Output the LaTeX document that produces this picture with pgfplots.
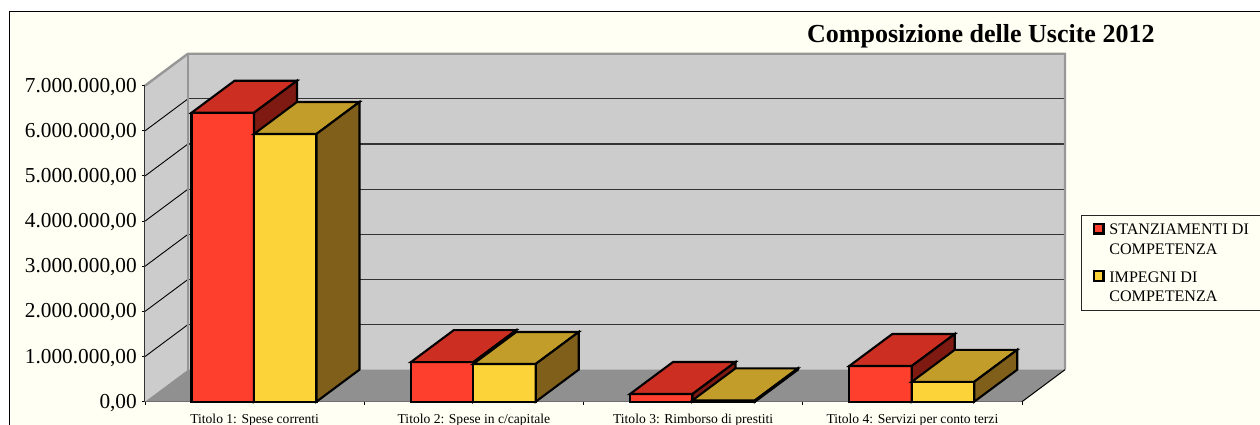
\documentclass[border=0pt]{standalone}
\usepackage{pgfplots}
\usepackage{fontspec}
\setmainfont{Liberation Serif}
\pgfplotsset{compat=1.18}
\definecolor{bgc}{HTML}{FFFFF3}
\definecolor{wall}{HTML}{CCCCCC}
\definecolor{floorc}{HTML}{909090}
\definecolor{edge}{HTML}{969696}
\definecolor{redF}{HTML}{FF3F2D}
\definecolor{redT}{HTML}{CC2F22}
\definecolor{redS}{HTML}{7F1A12}
\definecolor{yelF}{HTML}{FCD338}
\definecolor{yelT}{HTML}{C29D2A}
\definecolor{yelS}{HTML}{7F5F1A}
% depth of the 3D effect, in axis units (43 px and 32 px)
\def\dx{0.1961}
\def\dy{0.7089}
\newcommand\bbox[4]{%
  \pgfmathsetmacro\xa{#1+\dx}\pgfmathsetmacro\xb{#2+\dx}\pgfmathsetmacro\yb{#3+\dy}\pgfmathsetmacro\yc{\dy}%
  \addplot[forget plot,draw=black,line width=2.1pt,line join=miter,fill=#4F] coordinates {(#1,0)(#2,0)(#2,#3)(#1,#3)} --cycle;
  \addplot[forget plot,draw=black,line width=2.1pt,line join=miter,fill=#4T] coordinates {(#1,#3)(#2,#3)(\xb,\yb)(\xa,\yb)} --cycle;
  \addplot[forget plot,draw=black,line width=2.1pt,line join=miter,fill=#4S] coordinates {(#2,0)(\xb,\yc)(\xb,\yb)(#2,#3)} --cycle;
}
\newcommand\gridl[1]{%
  \pgfmathsetmacro\yb{#1+\dy}%
  \addplot[forget plot,draw=black!80,line width=1.1pt] coordinates {(\dx,\yb)(4+\dx,\yb)};
  \addplot[forget plot,draw=black,line width=0.9pt] coordinates {(0,#1)(\dx,\yb)};
}
\begin{document}
\begin{tikzpicture}[x=1pt,y=1pt]
\useasboundingbox (0,0) rectangle (1260,425);
\clip (0,0) rectangle (1260,425);
\fill[white] (0,0) rectangle (1260,425);
\draw[black,fill=bgc,line width=1.2pt] (9.5,-5) rectangle (1270,413.5);
\begin{axis}[
  at={(145pt,23.3pt)},anchor=south west,
  scale only axis,width=877pt,height=316pt,
  xmin=0,xmax=4,ymin=0,ymax=7,clip=false,
  axis x line=bottom,axis y line=left,
  axis line style={-,line width=1.1pt,black!80},
  no markers,
  tick style={black,line width=1pt},
  major tick length=6pt,
  xtick={0,1,2,3,4},xticklabels={},
  extra x ticks={0.5,1.5,2.5,3.5},
  extra x tick labels={Titolo 1: Spese correnti,Titolo 2: Spese in c/capitale,Titolo 3: Rimborso di prestiti,Titolo 4: Servizi per conto terzi},
  extra x tick style={major tick length=0pt,
    xticklabel style={font=\fontsize{13.6}{14}\selectfont,inner sep=0pt,anchor=base,yshift=-21.5pt}},
  ytick={0,1,2,3,4,5,6,7},
  yticklabels={{0,00},{1.000.000,00},{2.000.000,00},{3.000.000,00},{4.000.000,00},{5.000.000,00},{6.000.000,00},{7.000.000,00}},
  yticklabel style={font=\fontsize{21.3}{22}\selectfont,inner sep=0pt,xshift=-5pt,yshift=-1pt},
  title={\textbf{Composizione delle Uscite 2012}},
  title style={font=\fontsize{26}{26}\selectfont,at={(axis description cs:0.7548,1.119)},anchor=base west,inner sep=0pt},
  legend style={at={(axis description cs:1.0667,0.59)},anchor=north west,
    draw=black!85,line width=0.9pt,fill=none,inner xsep=12pt,inner ysep=7pt,row sep=14pt,column sep=3pt,
    cells={anchor=base west},
    nodes={text depth=,inner sep=1.5pt},
    font=\fontsize{16.1}{19.5}\selectfont},
]
% walls and floor
\addplot[forget plot,draw=none,fill=wall] coordinates {(\dx,\dy)(4+\dx,\dy)(4+\dx,7+\dy)(\dx,7+\dy)} --cycle;
\addplot[forget plot,draw=none,fill=wall] coordinates {(0,0)(\dx,\dy)(\dx,7+\dy)(0,7)} --cycle;
\addplot[forget plot,draw=none,fill=floorc] coordinates {(0,0)(4,0)(4+\dx,\dy)(\dx,\dy)} --cycle;
\gridl{1}\gridl{2}\gridl{3}\gridl{4}\gridl{5}\gridl{6}
\addplot[forget plot,draw=edge,line width=2.4pt] coordinates {(0,7)(\dx,7+\dy)(4+\dx,7+\dy)(4+\dx,\dy)};
\addplot[forget plot,draw=edge,line width=2.4pt] coordinates {(\dx,\dy)(\dx,7+\dy)};
\addplot[forget plot,draw=black,line width=1pt] coordinates {(4,0)(4+\dx,\dy)};
% bars (values in millions)
\bbox{0.212}{0.497}{6.40}{red}
\bbox{0.497}{0.782}{5.93}{yel}
\bbox{1.212}{1.497}{0.875}{red}
\bbox{1.497}{1.782}{0.835}{yel}
\bbox{2.212}{2.497}{0.17}{red}
\bbox{2.497}{2.782}{0.03}{yel}
\bbox{3.212}{3.497}{0.79}{red}
\bbox{3.497}{3.782}{0.44}{yel}
\addlegendimage{legend image code/.code={\draw[draw=black,line width=2.4pt,fill=redF] (0pt,1.5pt) rectangle (9.5pt,11pt);}}
\addlegendentry{\parbox[t]{170pt}{STANZIAMENTI DI\\COMPETENZA}}
\addlegendimage{legend image code/.code={\draw[draw=black,line width=2.4pt,fill=yelF] (0pt,1.5pt) rectangle (9.5pt,11pt);}}
\addlegendentry{\parbox[t]{170pt}{IMPEGNI DI\\COMPETENZA}}
\end{axis}
\end{tikzpicture}
\end{document}
